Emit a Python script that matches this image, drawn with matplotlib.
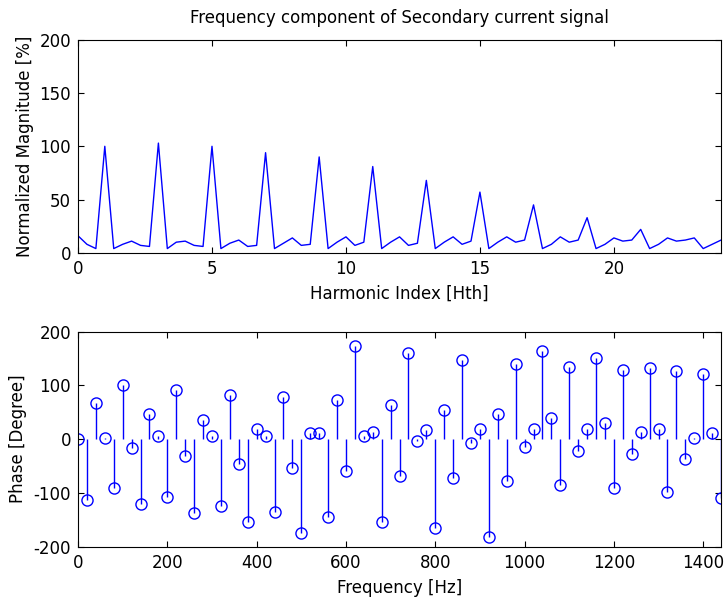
import numpy as np
import matplotlib as mpl
import matplotlib.pyplot as plt

mpl.use('Agg')

# harmonic index 0..24 in steps of 1/3 (20 Hz bins of a 60 Hz system)
harm = np.arange(73) / 3.0
mag = [16, 8, 4, 100, 4, 8, 11, 7, 6, 103, 4, 10, 11, 7, 6, 100, 4, 9,
       12, 6, 7, 94, 4, 9, 14, 7, 8, 90, 4, 10, 15, 7, 10, 81, 4, 10,
       15, 7, 9, 68, 4, 10, 15, 8, 11, 57, 4, 10, 15, 10, 12, 45, 4, 8,
       15, 10, 12, 33, 4, 8, 14, 11, 12, 22, 4, 8, 14, 11, 12, 14, 4, 8, 12]

freq = np.arange(0, 1441, 20)
phase = [0, -113, 67, 2, -90, 100, -17, -121, 47, 5, -107, 92, -31, -138, 36, 5,
         -124, 83, -46, -155, 18, 5, -136, 78, -53, -175, 11, 11, -144, 72, -59, 174,
         5, 14, -155, 64, -68, 160, -3, 17, -166, 55, -73, 148, -8, 19, -183, 47,
         -77, 140, -14, 19, 165, 39, -85, 134, -22, 19, 151, 30, -90, 128, -28, 14,
         132, 19, -99, 127, -36, 2, 121, 11, -109]

plt.rcParams['font.family'] = ['DejaVu Sans']
plt.rcParams['font.size'] = 12
plt.rcParams['axes.unicode_minus'] = False
plt.rcParams['xtick.direction'] = 'in'
plt.rcParams['ytick.direction'] = 'in'
plt.rcParams['xtick.top'] = True
plt.rcParams['ytick.right'] = True

fig = plt.figure(figsize=(7.25, 6.02), dpi=100)
ax1 = fig.add_axes([0.1076, 0.58, 0.887, 0.354])
ax2 = fig.add_axes([0.1076, 0.092, 0.887, 0.357])

ax1.plot(harm, mag, color='#0000ff', lw=1)
ax1.set_xlim(0, 24)
ax1.set_ylim(0, 200)
ax1.set_xticks([0, 5, 10, 15, 20])
ax1.set_yticks([0, 50, 100, 150, 200])
ax1.set_xlabel('Harmonic Index [Hth]', labelpad=5)
ax1.set_ylabel('Normalized Magnitude [%]', labelpad=4)
ax1.set_title('Frequency component of Secondary current signal', fontsize=12, pad=12)

ml, sl, bl = ax2.stem(freq, phase, linefmt='-', markerfmt='o', basefmt=' ')
plt.setp(sl, color='#0000ff', lw=1)
plt.setp(ml, markerfacecolor='none', markeredgecolor='#0000ff', markersize=8, mew=1)
ax2.set_xlim(0, 1440)
ax2.set_ylim(-200, 200)
ax2.set_xticks([0, 200, 400, 600, 800, 1000, 1200, 1400])
ax2.set_yticks([-200, -100, 0, 100, 200])
ax2.set_xlabel('Frequency [Hz]', labelpad=5)
ax2.set_ylabel('Phase [Degree]', labelpad=5)

for ax in (ax1, ax2):
    ax.tick_params(length=4, width=0.8, pad=5)
    for s in ax.spines.values():
        s.set_linewidth(0.8)

fig.savefig('out.png', dpi=100)
